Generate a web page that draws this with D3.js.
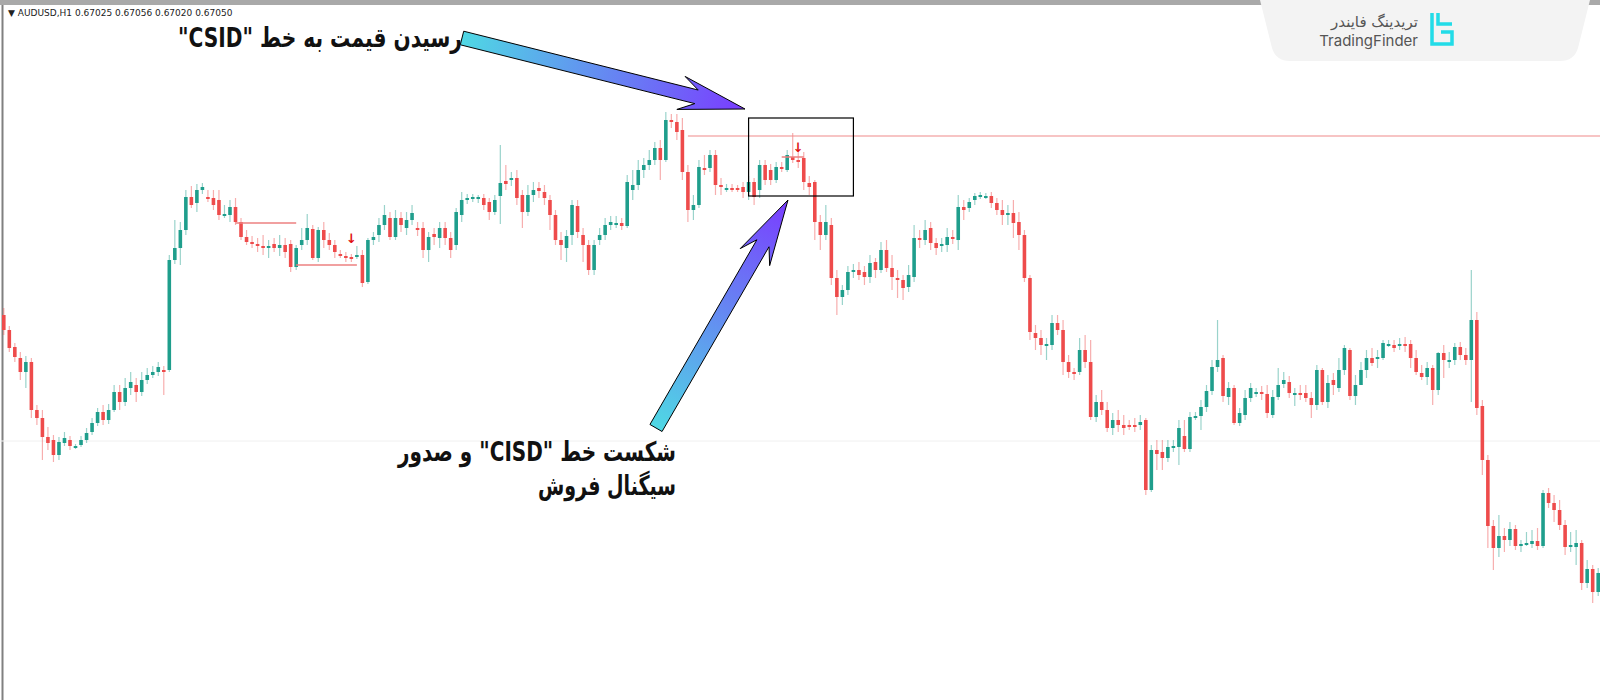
<!DOCTYPE html>
<html><head><meta charset="utf-8">
<script src="https://cdn.jsdelivr.net/npm/d3@7/dist/d3.min.js"></script>
<style>body{margin:0;background:#fff;overflow:hidden}svg{display:block}</style>
</head><body><svg id="c" width="1600" height="700"></svg>
<script>
// Candles: [open, close, high, low] in chart points (0 = top of price range, 700 = bottom)
const candles = [
[315,330,308,335],[330,348,326,352],[347,357,343,362],[358,372,352,380],[372,362,356,388],[362,410,358,418],[410,418,405,425],[418,437,410,460],[437,443,427,450],[440,455,435,462],
[455,442,437,460],[443,438,432,446],[440,446,436,450],[447,446,444,449],[445,440,436,447],[440,433,428,443],[432,423,418,435],[423,412,408,426],[412,420,405,425],[420,410,404,424],
[410,392,385,412],[392,402,385,410],[402,388,378,406],[388,382,372,395],[385,392,378,402],[392,380,372,396],[380,375,368,384],[375,372,366,378],[372,367,362,376],[370,372,366,395],
[370,260,255,372],[260,248,220,264],[248,230,222,265],[230,197,190,235],[197,205,186,208],[203,190,184,212],[190,187,183,194],[197,198,190,202],[198,205,190,210],[200,215,190,220],
[215,214,205,218],[215,207,200,222],[207,222,198,225],[222,237,218,240],[237,242,230,245],[242,243,236,248],[244,245,238,252],[246,247,235,255],[247,246,240,258],[244,248,238,252],
[248,245,235,256],[245,252,238,258],[244,267,240,272],[267,248,245,270],[245,240,228,250],[240,228,214,245],[229,258,225,260],[258,230,227,262],[230,240,222,248],[240,245,233,250],
[245,252,240,258],[254,255,250,258],[256,257,252,262],[257,258,254,262],[257,255,246,259],[255,283,250,287],[282,240,238,284],[240,237,232,245],[235,225,218,242],[225,215,205,230],
[218,237,212,240],[237,218,210,240],[218,225,212,232],[228,220,212,235],[220,213,205,225],[228,230,222,236],[228,250,222,258],[250,237,232,262],[234,237,228,245],[238,228,222,248],
[228,238,222,245],[238,250,232,258],[245,212,208,250],[215,200,192,222],[199,198,194,204],[198,197,194,202],[198,197,195,203],[198,205,194,210],[202,212,198,220],[212,200,195,215],
[196,183,145,224],[181,184,165,190],[180,178,172,186],[178,198,170,205],[195,212,190,228],[212,195,185,216],[195,190,182,202],[188,191,182,198],[192,198,185,205],[200,215,195,230],
[215,240,210,245],[240,245,232,260],[248,236,230,262],[235,205,200,245],[206,232,200,238],[235,245,228,262],[245,270,240,275],[270,245,240,275],[240,235,228,245],[235,225,218,240],
[225,222,216,230],[224,223,216,228],[223,226,218,230],[226,182,175,228],[190,185,170,200],[185,170,160,190],[170,165,158,178],[165,160,150,170],[160,148,142,165],[148,160,140,180],
[160,120,112,162],[120,122,114,128],[122,132,114,140],[130,172,118,180],[172,210,165,222],[210,205,195,220],[205,167,160,208],[168,170,155,175],[168,155,150,172],[155,185,150,195],
[185,187,178,195],[188,188,184,192],[188,189,184,192],[188,189,185,192],[187,192,182,198],[192,182,176,200],[182,197,178,205],[190,165,160,198],[165,180,160,185],[170,180,164,185],
[180,167,162,183],[167,168,162,172],[170,155,150,172],[157,160,133,163],[160,162,150,168],[158,182,152,190],[183,187,176,195],[182,222,180,240],[222,235,215,250],[235,222,205,240],
[225,278,218,285],[278,297,270,315],[297,290,285,305],[290,272,266,295],[272,270,264,278],[270,275,262,280],[272,277,266,285],[277,263,255,283],[262,270,258,278],[270,250,242,273],
[250,268,240,272],[268,277,255,290],[278,280,270,298],[280,288,275,300],[287,275,265,292],[277,238,225,282],[238,240,230,248],[240,230,220,245],[228,243,222,250],[243,248,238,255],
[245,244,238,252],[245,237,228,252],[237,238,230,244],[240,207,195,250],[207,210,200,220],[208,202,198,212],[200,196,193,205],[196,195,192,199],[196,196,193,199],[196,203,192,208],
[203,210,198,215],[210,215,200,225],[215,213,205,225],[213,223,200,238],[222,235,212,250],[235,278,230,282],[278,332,275,340],[333,338,325,350],[338,345,330,355],[345,344,338,360],
[345,323,315,350],[323,330,315,335],[330,362,320,375],[362,372,355,378],[372,373,368,380],[372,350,338,375],[350,362,335,368],[362,417,340,420],[417,402,395,422],[402,410,390,415],
[410,428,402,432],[428,420,413,435],[420,425,410,432],[425,428,415,435],[425,426,420,430],[425,426,418,432],[425,422,415,430],[420,490,418,495],[490,450,445,492],[450,454,440,470],
[452,458,440,470],[458,447,440,462],[447,446,440,452],[447,428,420,465],[436,449,420,452],[449,417,412,452],[417,416,412,420],[416,407,400,430],[407,391,385,412],[391,367,360,395],
[367,360,320,372],[358,396,355,402],[397,388,382,405],[388,423,385,425],[423,413,408,426],[415,398,390,420],[398,388,383,402],[392,392,388,397],[392,394,386,400],[394,413,385,418],
[415,397,390,418],[397,385,368,400],[384,380,372,388],[382,393,376,398],[393,393,388,406],[393,394,385,400],[393,398,385,402],[398,405,392,418],[405,370,365,410],[370,402,368,405],
[402,383,375,408],[380,385,373,395],[388,370,358,392],[370,348,345,375],[350,396,348,400],[396,385,375,405],[385,370,362,380],[370,358,350,378],[358,363,348,366],[358,357,350,368],
[358,343,340,360],[344,344,340,347],[345,348,340,352],[346,344,338,350],[344,345,337,352],[344,358,340,368],[358,372,350,375],[373,377,365,380],[377,368,362,385],[368,390,365,405],
[390,353,352,395],[353,360,345,378],[360,360,352,368],[360,347,343,365],[347,355,342,360],[355,360,348,365],[360,320,270,402],[320,408,312,415],[406,460,400,475],[460,526,455,548],
[526,548,520,570],[548,536,515,557],[536,540,528,552],[540,529,522,546],[529,546,525,550],[546,544,540,552],[544,543,532,546],[544,541,530,548],[541,546,528,550],[546,493,490,548],
[493,503,488,508],[503,510,495,522],[510,525,500,530],[525,547,520,555],[546,545,532,552],[547,543,530,565],[543,583,540,590],[583,569,560,588],[569,592,565,603],[592,573,568,596]
];
const titleText = "▼ AUDUSD,H1  0.67025 0.67056 0.67020 0.67050";
const noteTop = "رسیدن قیمت به خط \"CSID\"";
const noteBottom = ["شکست خط \"CISD\" و صدور", "سیگنال فروش"];
const csidLevel = 136;
const gridLevel = 441;
const rangeTop = {from: 42, to: 53, level: 223};
const rangeBot = {from: 53, to: 64, level: 265};
const signals = [{i: 63, level: 243}, {i: 144, level: 152}];
const signalBox = {from: 135, to: 154, top: 118, bottom: 196};

const svg = d3.select("#c");
const x = d3.scaleBand().domain(d3.range(candles.length)).range([2, 1600]).paddingInner(0.35);
const y = d3.scaleLinear().domain([0, 700]).range([0, 700]);
const UP = "#1f9e8c", DN = "#ee4b4b";

svg.append("rect").attr("x",0).attr("y",0).attr("width",1600).attr("height",5).attr("fill","#a9a9a9");
svg.append("line").attr("x1",2.5).attr("x2",2.5).attr("y1",5).attr("y2",700).attr("stroke","#808080").attr("stroke-width",2);
svg.append("line").attr("x1",0).attr("x2",1600).attr("y1",y(gridLevel)).attr("y2",y(gridLevel)).attr("stroke","#f0f0f0");
svg.append("text").attr("x",8).attr("y",16).attr("font-family","DejaVu Sans").attr("font-size",9).attr("fill","#222").text(titleText);

const cx = i => x(i) + x.bandwidth()/2;
const g = svg.append("g");
g.selectAll("line.w").data(candles).join("line")
  .attr("x1",(d,i)=>cx(i)).attr("x2",(d,i)=>cx(i))
  .attr("y1",d=>y(d[2])).attr("y2",d=>y(d[3]))
  .attr("stroke",d=>d[1]<=d[0]?UP:DN).attr("stroke-opacity",0.45).attr("stroke-width",1.2);
g.selectAll("rect.b").data(candles).join("rect")
  .attr("x",(d,i)=>x(i)).attr("width",x.bandwidth())
  .attr("y",d=>y(Math.min(d[0],d[1]))).attr("height",d=>Math.max(2,Math.abs(y(d[1])-y(d[0]))))
  .attr("fill",d=>d[1]<=d[0]?UP:DN);

svg.append("line").attr("x1",cx(124)).attr("x2",1600).attr("y1",y(csidLevel)).attr("y2",y(csidLevel)).attr("stroke","#f08a8a").attr("stroke-width",1.2);
[rangeTop, rangeBot].forEach(r=>svg.append("line").attr("x1",cx(r.from)).attr("x2",cx(r.to)).attr("y1",y(r.level)).attr("y2",y(r.level)).attr("stroke","#ec8080").attr("stroke-width",1.5));
svg.append("line").attr("x1",cx(141)).attr("x2",cx(145)).attr("y1",y(157)).attr("y2",y(157)).attr("stroke","#ec8080").attr("stroke-width",1.5);
signals.forEach(s=>svg.append("text").attr("x",cx(s.i)).attr("y",y(s.level)).attr("text-anchor","middle").attr("font-family","DejaVu Sans").attr("font-size",13).attr("font-weight","bold").attr("fill","#e01010").text("↓"));
svg.append("rect").attr("x",cx(signalBox.from)).attr("y",y(signalBox.top)).attr("width",cx(signalBox.to)-cx(signalBox.from)).attr("height",y(signalBox.bottom)-y(signalBox.top)).attr("fill","none").attr("stroke","#000").attr("stroke-width",1.2);

const defs = svg.append("defs");
function arrow(id, x0,y0,x1,y1){
  const gr = defs.append("linearGradient").attr("id",id).attr("gradientUnits","userSpaceOnUse").attr("x1",x0).attr("y1",y0).attr("x2",x1).attr("y2",y1);
  gr.append("stop").attr("offset","0").attr("stop-color","#4fd8e4");
  gr.append("stop").attr("offset","1").attr("stop-color","#7a3cff");
  const dx=x1-x0, dy=y1-y0, L=Math.hypot(dx,dy), ux=dx/L, uy=dy/L, nx=-uy, ny=ux;
  const w=7, hl=50, hw=17, hb=16;
  const P=(t,s)=>[x0+ux*t+nx*s, y0+uy*t+ny*s];
  const pts=[P(0,-w),P(L-hl,-w),P(L-hl-hb,-hw),P(L,0),P(L-hl-hb,hw),P(L-hl,w),P(0,w)];
  svg.append("polygon").attr("points",pts.map(p=>p.join(",")).join(" ")).attr("fill",`url(#${id})`).attr("stroke","#000").attr("stroke-width",1);
}
arrow("ga1", 462, 38, 745, 109);
arrow("ga2", 656, 428, 788, 200);

const tf = "'DejaVu Sans', 'Noto Sans', sans-serif";
function note(t, xr, yb, len){
  svg.append("text").attr("x",xr).attr("y",yb).attr("text-anchor","start").attr("direction","rtl")
    .attr("font-family",tf).attr("font-weight","bold").attr("font-size",27).attr("fill","#111")
    .attr("textLength",len).attr("lengthAdjust","spacingAndGlyphs").text(t);
}
note(noteTop, 462, 47, 284);
note(noteBottom[0], 676, 461, 278);
note(noteBottom[1], 676, 495, 138);

svg.append("path").attr("d","M1260,0 L1590,0 L1578,48 Q1574,61 1560,61 L1290,61 Q1276,61 1272,48 Z").attr("fill","#f3f3f3");
svg.append("text").attr("x",1418).attr("y",27).attr("text-anchor","end").attr("font-family",tf).attr("font-size",15).attr("fill","#555").text("تریدینگ فایندر");
svg.append("text").attr("x",1418).attr("y",46).attr("text-anchor","end").attr("font-family","Inter, sans-serif").attr("font-size",15).attr("fill","#555").text("TradingFinder");
svg.append("path").attr("d","M1432,13 L1432,44 L1452,44 L1452,32 L1441,32 M1438,13 L1438,24 L1452,24").attr("fill","none").attr("stroke","#22dce8").attr("stroke-width",3.5);
</script></body></html>
